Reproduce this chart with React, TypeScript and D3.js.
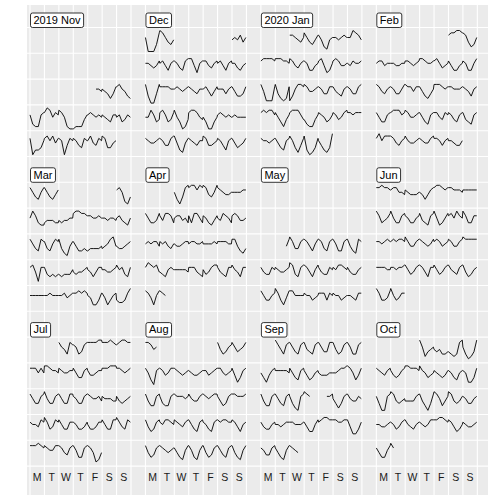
import { useRef, useEffect } from "react";
import * as d3 from "d3";

// month panels, in reading order
const monthLabels = ["2019 Nov", "Dec", "2020 Jan", "Feb", "Mar", "Apr", "May", "Jun", "Jul", "Aug", "Sep", "Oct"];
const monthStarts = [[2019, 10], [2019, 11], [2020, 0], [2020, 1], [2020, 2], [2020, 3], [2020, 4], [2020, 5], [2020, 6], [2020, 7], [2020, 8], [2020, 9]];
const dayLabels = ["M", "T", "W", "T", "F", "S", "S"];

// one string per day of the month, six readings per day (0 = low, 9 = high), "." = no reading
const nov2019 = ["", "", "", "", "", "", "", "", "", "", "", "", "", "", "...665", "654247", "786532", "621167", "798576", "875100", "011146", "676565", "654366", "563465", "702236", "786857", "760476", "764376", "685476", "873356"];
const dec2019 = ["565746", "665457", "675367", "764378", "885267", "775467", "675367", "664356", "830048", "777766", "676567", "765466", "675357", "666467", "753347", "558634", "786347", "853014", "788754", "530035", "676565", "565555", "765567", "764478", "852157", "765466", "874456", "764267", "753457", "600038", "986435"];
const jan2020 = ["776546", "864357", "752156", "665676", "669875", "788887", "888776", "875467", "763356", "785236", "787556", "657667", "851117", "842127", "136887", "875567", "764477", "754367", "764478", "787886", "753146", "788864", "421146", "765346", "764578", "776777", "766567", "753267", "863147", "820137", "642139"];
const feb2020 = ["788998", "874236", "677566", "665566", "776567", "887667", "786456", "753356", "763368", "875467", "764468", "877577", "753246", "888767", "776667", "765367", "753367", "788867", "875567", "753267", "775476", "764367", "743267", "796888", "875467", "865567", "765578", "776467", "665446"];
const mar2020 = ["786214", "697433", "455544", "545566", "899887", "776676", "665665", "675436", "864387", "743687", "842157", "753343", "344445", "456895", "544567", "785177", "743434", "434446", "545567", "653577", "665567", "867437", "666666", "667666", "667567", "778787", "652247", "752467", "433479", "864368", "864357"];
const apr2020 = ["631489", "899798", "985469", "876556", "666677", "864458", "758874", "677564", "748864", "764357", "658764", "787556", "676775", "767546", "655677", "677667", "666676", "777766", "885324", "798785", "543676", "666665", "777543", "645788", "754377", "865377", "875268", "876...", "", ""];
const may2020 = ["", "", "", "", "", "", "", "", "", "", "", "....58", "974478", "875368", "874378", "863378", "853287", "754476", "765567", "984378", "875368", "754476", "768876", "754467", "864467", "974258", "886666", "766456", "777476", "766456", "665477"];
const jun2020 = ["889887", "788665", "765556", "653578", "899878", "887776", "777777", "974568", "964478", "764467", "854378", "963468", "786976", "974477", "776787", "787887", "975578", "876568", "787567", "875578", "988888", "777766", "776778", "864578", "875377", "864578", "865478", "853467", "974458", "964577"];
const jul2020 = ["865387", "763478", "888899", "888987", "789988", "888686", "998776", "876677", "864478", "755677", "888999", "887678", "864478", "964478", "864488", "764478", "876675", "766655", "754567", "766587", "974587", "864477", "764457", "644577", "864488", "975487", "888987", "876688", "875478", "863378", "875125"];
const aug2020 = ["853467", "864568", "863178", "875688", "876567", "765567", "775678", "886567", "852478", "853378", "743378", "877767", "865578", "876788", "753478", "887778", "853478", "768876", "876578", "864378", "764378", "878877", "875367", "853478", "876567", "753268", "863268", "853478", "864378", "853268", "88756."];
const sep2020 = ["975378", "864378", "854378", "864488", "853478", "863378", "642578", "777776", "864378", "753467", "655566", "667889", "986358", "853378", "864378", "742178", "987...", "...778", "642478", "865576", "754467", "665677", "776667", "753368", "789988", "887788", "852247", "764478", "753268", "8765.."];
const oct2020 = ["962456", "545334", "432389", "631249", "876578", "754578", "998887", "976456", "765457", "764367", "762248", "741178", "985456", "555578", "853148", "986357", "985457", "764467", "665567", "764578", "865467", "765688", "889987", "875346", "765567", "753368", "97....", "", "", "", ""];

const monthData = [nov2019, dec2019, jan2020, feb2020, mar2020, apr2020, may2020, jun2020, jul2020, aug2020, sep2020, oct2020];

const CalendarPlot = () => {
  const svgRef = useRef<SVGSVGElement>(null);

  useEffect(() => {
    const width = 504;
    const height = 504;
    const svg = d3.select(svgRef.current).attr("width", width).attr("height", height);
    svg.selectAll("*").remove();

    // grid units: 32 day columns (7 per month + gap), 18 rows (label row + 5 weeks per month)
    const x = d3.scaleLinear().domain([0, 32]).range([30, 30 + 32 * 14.43]);
    const y = d3.scaleLinear().domain([0, 18]).range([1.7, 1.7 + 18 * 25.8]);
    const v = d3.scaleLinear().domain([0, 9]).range([24, 3]);

    svg.append("rect").attr("x", 27).attr("y", 5).attr("width", 461).attr("height", 490).attr("fill", "#EBEBEB");

    svg.append("g")
      .selectAll("line")
      .data(d3.range(0, 32))
      .join("line")
      .attr("x1", (d) => x(d)).attr("x2", (d) => x(d))
      .attr("y1", 5).attr("y2", 495)
      .attr("stroke", "white").attr("stroke-width", 1.1);

    svg.append("g")
      .selectAll("line")
      .data(d3.range(1, 19))
      .join("line")
      .attr("y1", (d) => y(d)).attr("y2", (d) => y(d))
      .attr("x1", 27).attr("x2", 488)
      .attr("stroke", "white").attr("stroke-width", 1.1);

    const line = d3.line<[number, number] | null>()
      .defined((d) => d !== null)
      .x((d) => d![0])
      .y((d) => d![1]);

    monthData.forEach((days, i) => {
      const col = i % 4;
      const block = Math.floor(i / 4);
      const [yr, mo] = monthStarts[i];
      const firstDow = (new Date(yr, mo, 1).getDay() + 6) % 7;

      // rows of points, one list per week row
      const rows: ([number, number] | null)[][] = [[], [], [], [], []];
      const lastDow = [-9, -9, -9, -9, -9];
      days.forEach((s, di) => {
        const pos = di + firstDow;
        let week = Math.floor(pos / 7);
        if (week >= 5) week -= 5;
        const dow = pos % 7;
        const left = x(col * 8 + dow);
        const cw = x(1) - x(0);
        const top = y(block * 6 + 1 + week);
        const pts = rows[week];
        if (dow !== lastDow[week] + 1) pts.push(null);
        lastDow[week] = dow;
        if (!s) {
          pts.push(null);
          return;
        }
        s.split("").forEach((c, k) => {
          if (c === ".") {
            pts.push(null);
          } else {
            pts.push([left + cw * (k / 5) * (23 / 24), top + v(+c)]);
          }
        });
      });

      rows.forEach((pts) => {
        svg.append("path")
          .attr("d", line(pts) || "")
          .attr("fill", "none")
          .attr("stroke", "black")
          .attr("stroke-width", 0.9)
          .attr("stroke-linejoin", "round");
      });

      // month label
      const lx = x(col * 8) + 0.5;
      const by = y(block * 6 + 1);
      const g = svg.append("g");
      const t = g.append("text")
        .attr("x", lx + 3)
        .attr("y", by - 3.8)
        .attr("font-family", "Liberation Sans, Arial, sans-serif")
        .attr("font-size", 11)
        .attr("fill", "black")
        .text(monthLabels[i]);
      const tw = (t.node() as SVGTextElement).getComputedTextLength();
      g.insert("rect", "text")
        .attr("x", lx).attr("y", by - 14.5)
        .attr("width", tw + 6).attr("height", 14.5)
        .attr("rx", 2).attr("fill", "white")
        .attr("stroke", "black").attr("stroke-width", 0.8);
    });

    // day-of-week labels
    const labs = d3.range(4).flatMap((m) => dayLabels.map((l, k) => ({ l, c: m * 8 + k })));
    svg.append("g")
      .selectAll("text")
      .data(labs)
      .join("text")
      .attr("x", (d) => x(d.c + 0.5))
      .attr("y", 481)
      .attr("text-anchor", "middle")
      .attr("font-family", "Liberation Sans, Arial, sans-serif")
      .attr("font-size", 10.5)
      .attr("fill", "#1a1a1a")
      .text((d) => d.l);
  }, []);

  return <svg ref={svgRef} style={{ display: "block", position: "absolute", left: 0, top: 0 }} />;
};

export default function App() {
  return <CalendarPlot />;
}
